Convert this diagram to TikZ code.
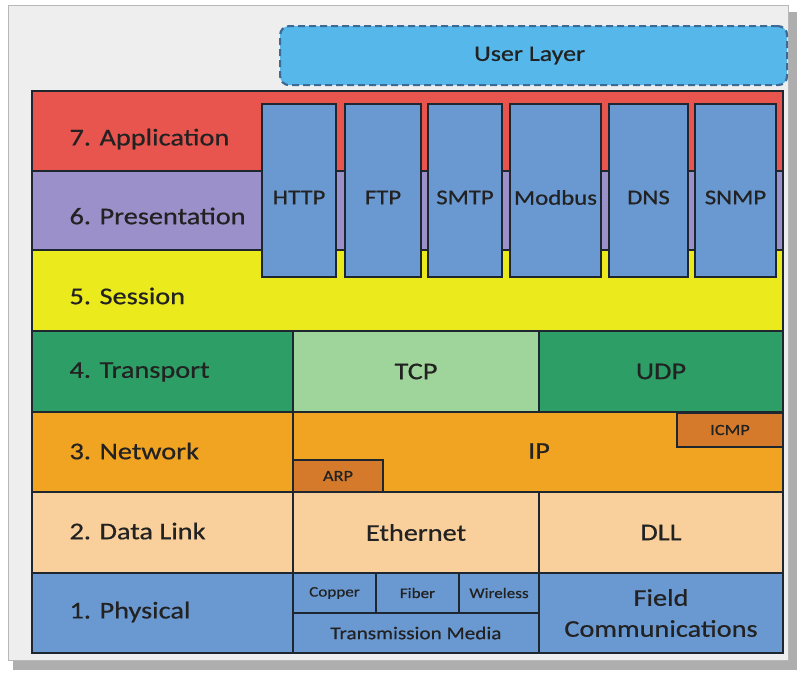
\documentclass[tikz,border=0pt]{standalone}
\usepackage{fontspec}
\setmainfont{Carlito}[FakeStretch=1.18, FakeBold=0.6]
\definecolor{appc}{HTML}{E8554F}
\definecolor{presc}{HTML}{9B90C9}
\definecolor{sessc}{HTML}{EAEA1C}
\definecolor{transc}{HTML}{2C9E66}
\definecolor{tcpc}{HTML}{9FD49A}
\definecolor{netc}{HTML}{F1A322}
\definecolor{subc}{HTML}{D47A2A}
\definecolor{dlc}{HTML}{F9CF9C}
\definecolor{physc}{HTML}{6A98D0}
\definecolor{userc}{HTML}{55B7EA}
\definecolor{userb}{HTML}{3D6A94}
\definecolor{linec}{HTML}{1E2630}
\definecolor{txtc}{HTML}{222222}
\definecolor{framec}{HTML}{EEEEEE}
\definecolor{frameb}{HTML}{B8B8B8}
\definecolor{shadowc}{HTML}{8C8C8C}
\tikzset{
  cell/.style={draw=linec, line width=1.4pt, anchor=north west, inner sep=0pt, outer sep=0pt},
  big/.style={font=\fontsize{24}{28}\selectfont, text=txtc},
  mid/.style={font=\fontsize{21}{25}\selectfont, text=txtc},
  small/.style={font=\fontsize{14.5}{17}\selectfont, text=txtc},
}
\begin{document}
\begin{tikzpicture}[x=1pt,y=-1pt]
\useasboundingbox (0,0) rectangle (803,678);
% frame with shadow
\fill[shadowc!70] (13,12) rectangle (797,670);
\node[draw=frameb, fill=framec, line width=1pt, anchor=north west, minimum width=780pt, minimum height=655pt, inner sep=0pt] (frame) at (8,5) {};
% user layer
\node[draw=userb, fill=userc, dashed, dash pattern=on 7pt off 4pt, line width=2.2pt, rounded corners=9pt, anchor=north west, minimum width=507pt, minimum height=59pt, inner sep=0pt] (user) at (279,25) {};
\node[mid, font=\fontsize{22}{26}\selectfont] (usert) at ([xshift=-4pt]user.center) {User Layer};
% upper rows
\node[cell, fill=appc, minimum width=751pt, minimum height=80pt] (app) at (32,91) {};
\node[cell, fill=presc, minimum width=751pt, minimum height=79pt] (pres) at (32,171) {};
\node[cell, fill=sessc, minimum width=751pt, minimum height=81pt] (sess) at (32,250) {};
% protocol boxes
\node[cell, fill=physc, minimum width=74pt, minimum height=173pt] (http) at (262,104) {};
\node[cell, fill=physc, minimum width=76pt, minimum height=173pt] (ftp) at (345,104) {};
\node[cell, fill=physc, minimum width=74pt, minimum height=173pt] (smtp) at (428,104) {};
\node[cell, fill=physc, minimum width=91pt, minimum height=173pt] (modbus) at (510,104) {};
\node[cell, fill=physc, minimum width=79pt, minimum height=173pt] (dns) at (609,104) {};
\node[cell, fill=physc, minimum width=81pt, minimum height=173pt] (snmp) at (695,104) {};
\foreach \n/\t in {http/HTTP, ftp/FTP, smtp/SMTP, modbus/Modbus, dns/DNS, snmp/SNMP}
  \node[mid] (\n t) at ([yshift=-7pt]\n.center) {\t};
% transport
\node[cell, fill=transc, minimum width=261pt, minimum height=81pt] (trans) at (32,331) {};
\node[cell, fill=tcpc, minimum width=246pt, minimum height=81pt] (tcp) at (293,331) {};
\node[cell, fill=transc, minimum width=244pt, minimum height=81pt] (udp) at (539,331) {};
% network
\node[cell, fill=netc, minimum width=261pt, minimum height=80pt] (net) at (32,412) {};
\node[cell, fill=netc, minimum width=490pt, minimum height=80pt] (ip) at (293,412) {};
\node[cell, fill=subc, minimum width=106pt, minimum height=34pt] (icmp) at (677,413) {};
\node[cell, fill=subc, minimum width=90pt, minimum height=32pt] (arp) at (293,460) {};
% data link
\node[cell, fill=dlc, minimum width=261pt, minimum height=81pt] (dl) at (32,492) {};
\node[cell, fill=dlc, minimum width=246pt, minimum height=81pt] (eth) at (293,492) {};
\node[cell, fill=dlc, minimum width=244pt, minimum height=81pt] (dll) at (539,492) {};
% physical
\node[cell, fill=physc, minimum width=261pt, minimum height=80pt] (phys) at (32,573) {};
\node[cell, fill=physc, minimum width=83pt, minimum height=40pt] (copper) at (293,573) {};
\node[cell, fill=physc, minimum width=83pt, minimum height=40pt] (fiber) at (376,573) {};
\node[cell, fill=physc, minimum width=80pt, minimum height=40pt] (wireless) at (459,573) {};
\node[cell, fill=physc, minimum width=246pt, minimum height=40pt] (media) at (293,613) {};
\node[cell, fill=physc, minimum width=244pt, minimum height=80pt] (field) at (539,573) {};
% layer labels
\node[big, anchor=west] (appt) at (66,139) {7. Application};
\node[big, anchor=west] (prest) at (66,216) {6. Presentation};
\node[big, anchor=west] (sesst) at (66,296) {5. Session};
\node[big, anchor=west] (transt) at (66,372) {4. Transport};
\node[big, anchor=west] (nett) at (66,451) {3. Network};
\node[big, anchor=west] (dlt) at (66,531) {2. Data Link};
\node[big, anchor=west] (physt) at (66,612) {1. Physical};
% cell texts
\node[big] (tcpt) at (tcp.center) {TCP};
\node[big] (udpt) at (udp.center) {UDP};
\node[big] (ipt) at (539,451) {IP};
\node[small, font=\fontsize{15.5}{18}\selectfont] (icmpt) at (icmp.center) {ICMP};
\node[small, font=\fontsize{15.5}{18}\selectfont] (arpt) at (arp.center) {ARP};
\node[big] (etht) at (eth.center) {Ethernet};
\node[big] (dllt) at (dll.center) {DLL};
\node[small] (coppert) at (copper.center) {Copper};
\node[small] (fibert) at (fiber.center) {Fiber};
\node[small] (wirelesst) at (wireless.center) {Wireless};
\node[small, font=\fontsize{18}{21}\selectfont] (mediat) at (media.center) {Transmission Media};
\node[big, align=center, font=\fontsize{24}{31}\selectfont] (fieldt) at (field.center) {Field\\Communications};
\end{tikzpicture}
\end{document}
